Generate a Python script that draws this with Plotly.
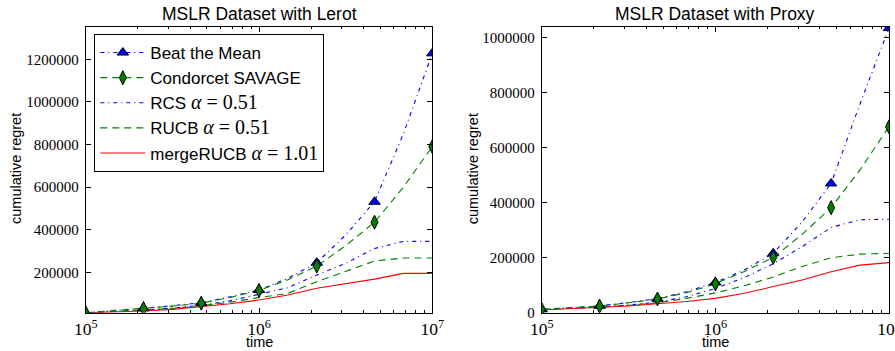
import plotly.graph_objects as go

# time grid: 10^(5 + k/6), k = 0..12
exponents = [5 + k / 6 for k in range(13)]
times = [10 ** e for e in exponents]

# ---------------- MSLR Dataset with Lerot ----------------
lerot_btm = [10000, 20000, 31000, 43000, 57000, 85000, 117000, 172000, 245000, 375000, 531000, 850000, 1228000]
lerot_cs = [10000, 20000, 30000, 41000, 55000, 82000, 115000, 165000, 229000, 325000, 435000, 600000, 790000]
lerot_rcs = [10000, 16000, 23000, 32000, 45000, 66000, 98000, 128000, 187000, 242000, 312000, 345000, 345000]
lerot_rucb = [10000, 16000, 22000, 30000, 43000, 60000, 81000, 101000, 156000, 203000, 253000, 267000, 267000]
lerot_merge = [10000, 13500, 18000, 26000, 38000, 52000, 70000, 93000, 125000, 148000, 168000, 195000, 195000]

# ---------------- MSLR Dataset with Proxy ----------------
proxy_btm = [12000, 18000, 25000, 37000, 51000, 76000, 110000, 155000, 216000, 330000, 470000, 760000, 1035000]
proxy_cs = [12000, 18000, 24000, 36000, 50000, 73000, 105000, 150000, 201000, 285000, 382000, 520000, 676000]
proxy_rcs = [12000, 15000, 20000, 28000, 38000, 58000, 88000, 128000, 178000, 240000, 310000, 338000, 340000]
proxy_rucb = [12000, 15000, 20000, 27000, 36000, 52000, 72000, 98000, 130000, 168000, 200000, 213000, 216000]
proxy_merge = [9800, 13500, 19600, 24400, 31600, 41000, 52000, 70500, 95000, 119000, 149000, 173000, 182000]

MATH = "<span style='font-family:Liberation Serif;font-size:20px'>"
legend_names = [
    "Beat the Mean",
    "Condorcet SAVAGE",
    "RCS " + MATH + "<i>α</i> = 0.51</span>",
    "RUCB " + MATH + "<i>α</i> = 0.51</span>",
    "mergeRUCB " + MATH + "<i>α</i> = 1.01</span>",
]

BLUE = "#0000ff"
GREEN = "#008000"
RED = "#ff0000"
DASHDOT = "4px,4px,1px,4px"
DASH = "7px,5px"
LW = 1.1

fig = go.Figure()


def sparse(vals):
    # markers every second grid point, separated by gaps so no line segment is drawn
    out = []
    for i, v in enumerate(vals):
        if i % 2 == 0:
            out.append(v)
            out.append(None)
    return out[:-1]


def add_panel(xa, ya, btm, cs, rcs, rucb, merge, show_legend):
    fig.add_trace(go.Scatter(x=times, y=rcs, mode="lines", xaxis=xa, yaxis=ya,
                             line=dict(color=BLUE, width=LW, dash=DASHDOT),
                             name=legend_names[2], legendrank=3, showlegend=show_legend))
    fig.add_trace(go.Scatter(x=times, y=rucb, mode="lines", xaxis=xa, yaxis=ya,
                             line=dict(color=GREEN, width=LW, dash=DASH),
                             name=legend_names[3], legendrank=4, showlegend=show_legend))
    fig.add_trace(go.Scatter(x=times, y=merge, mode="lines", xaxis=xa, yaxis=ya,
                             line=dict(color=RED, width=LW),
                             name=legend_names[4], legendrank=5, showlegend=show_legend))
    fig.add_trace(go.Scatter(x=times, y=btm, mode="lines", xaxis=xa, yaxis=ya,
                             line=dict(color=BLUE, width=LW, dash=DASHDOT),
                             showlegend=False))
    fig.add_trace(go.Scatter(x=times, y=cs, mode="lines", xaxis=xa, yaxis=ya,
                             line=dict(color=GREEN, width=LW, dash=DASH),
                             showlegend=False))
    fig.add_trace(go.Scatter(x=sparse(times), y=sparse(btm), mode="lines+markers",
                             xaxis=xa, yaxis=ya, connectgaps=False,
                             line=dict(color=BLUE, width=LW, dash=DASHDOT),
                             marker=dict(symbol="triangle-up", size=10, color=BLUE,
                                         line=dict(color="black", width=1)),
                             name=legend_names[0], legendrank=1, showlegend=show_legend))
    fig.add_trace(go.Scatter(x=sparse(times), y=sparse(cs), mode="lines+markers",
                             xaxis=xa, yaxis=ya, connectgaps=False,
                             line=dict(color=GREEN, width=LW, dash=DASH),
                             marker=dict(symbol="diamond-tall", size=10, color=GREEN,
                                         line=dict(color="black", width=1)),
                             name=legend_names[1], legendrank=2, showlegend=show_legend))


add_panel("x", "y", lerot_btm, lerot_cs, lerot_rcs, lerot_rucb, lerot_merge, True)
add_panel("x2", "y2", proxy_btm, proxy_cs, proxy_rcs, proxy_rucb, proxy_merge, False)

ytickfont = dict(family="Liberation Serif", size=15, color="black")
xtickfont = dict(family="Liberation Serif", size=14, color="black")

xcommon = dict(type="log", range=[5, 7], dtick=1, exponentformat="power",
               showline=True, linecolor="black", linewidth=1, mirror="ticks",
               ticks="inside", ticklen=5, tickcolor="black", showgrid=False,
               zeroline=False, tickfont=xtickfont, automargin=False,
               ticklabelstandoff=1, ticklabeloverflow="allow",
               minor=dict(ticks="inside", ticklen=2.5, tickcolor="black", showgrid=False))
ycommon = dict(showline=True, linecolor="black", linewidth=1, mirror="ticks",
               ticks="inside", ticklen=5, tickcolor="black", showgrid=False,
               zeroline=False, tickfont=ytickfont, dtick=200000, tickformat="d",
               automargin=False, ticklabelstandoff=3, ticklabeloverflow="allow")

L0, L1 = 85.7 / 895, 432.3 / 895
R0, R1 = 541.7 / 895, 889 / 895
B, T = 1 - 312.7 / 351, 1 - 26.7 / 351

fig.update_layout(
    width=895, height=351,
    margin=dict(l=0, r=0, t=0, b=0, autoexpand=False),
    paper_bgcolor="white", plot_bgcolor="white",
    font=dict(family="Liberation Sans, Arial", color="black"),
    xaxis=dict(domain=[L0, L1], anchor="y", **xcommon),
    yaxis=dict(domain=[B, T], anchor="x", range=[10300, 1353000], **ycommon),
    xaxis2=dict(domain=[R0, R1], anchor="y2", **xcommon),
    yaxis2=dict(domain=[B, T], anchor="x2", range=[0, 1040000], **ycommon),
    legend=dict(x=94.3 / 895, y=1 - 34 / 351, xanchor="left", yanchor="top",
                bgcolor="white", bordercolor="black", borderwidth=1,
                font=dict(family="Liberation Sans, Arial", size=17, color="black"),
                itemwidth=45, traceorder="normal"),
    showlegend=True,
)

ann_font = dict(family="Liberation Sans, Arial", color="black")
annotations = [
    dict(text="MSLR Dataset with Lerot", x=(L0 + L1) / 2, y=1 - 14 / 351,
         font=dict(size=17.5, **ann_font)),
    dict(text="MSLR Dataset with Proxy", x=(R0 + R1) / 2, y=1 - 14 / 351,
         font=dict(size=17.5, **ann_font)),
    dict(text="time", x=(L0 + L1) / 2, y=1 - 342 / 351, font=dict(size=14.5, **ann_font)),
    dict(text="time", x=(R0 + R1) / 2, y=1 - 342 / 351, font=dict(size=14.5, **ann_font)),
    dict(text="cumulative regret", x=16 / 895, y=1 - 169 / 351, textangle=-90,
         font=dict(size=14.5, **ann_font)),
    dict(text="cumulative regret", x=473.3 / 895, y=1 - 169 / 351, textangle=-90,
         font=dict(size=14.5, **ann_font)),
]
for a in annotations:
    a.update(xref="paper", yref="paper", showarrow=False, xanchor="center", yanchor="middle")
fig.update_layout(annotations=annotations)

fig.write_html("out.html")
